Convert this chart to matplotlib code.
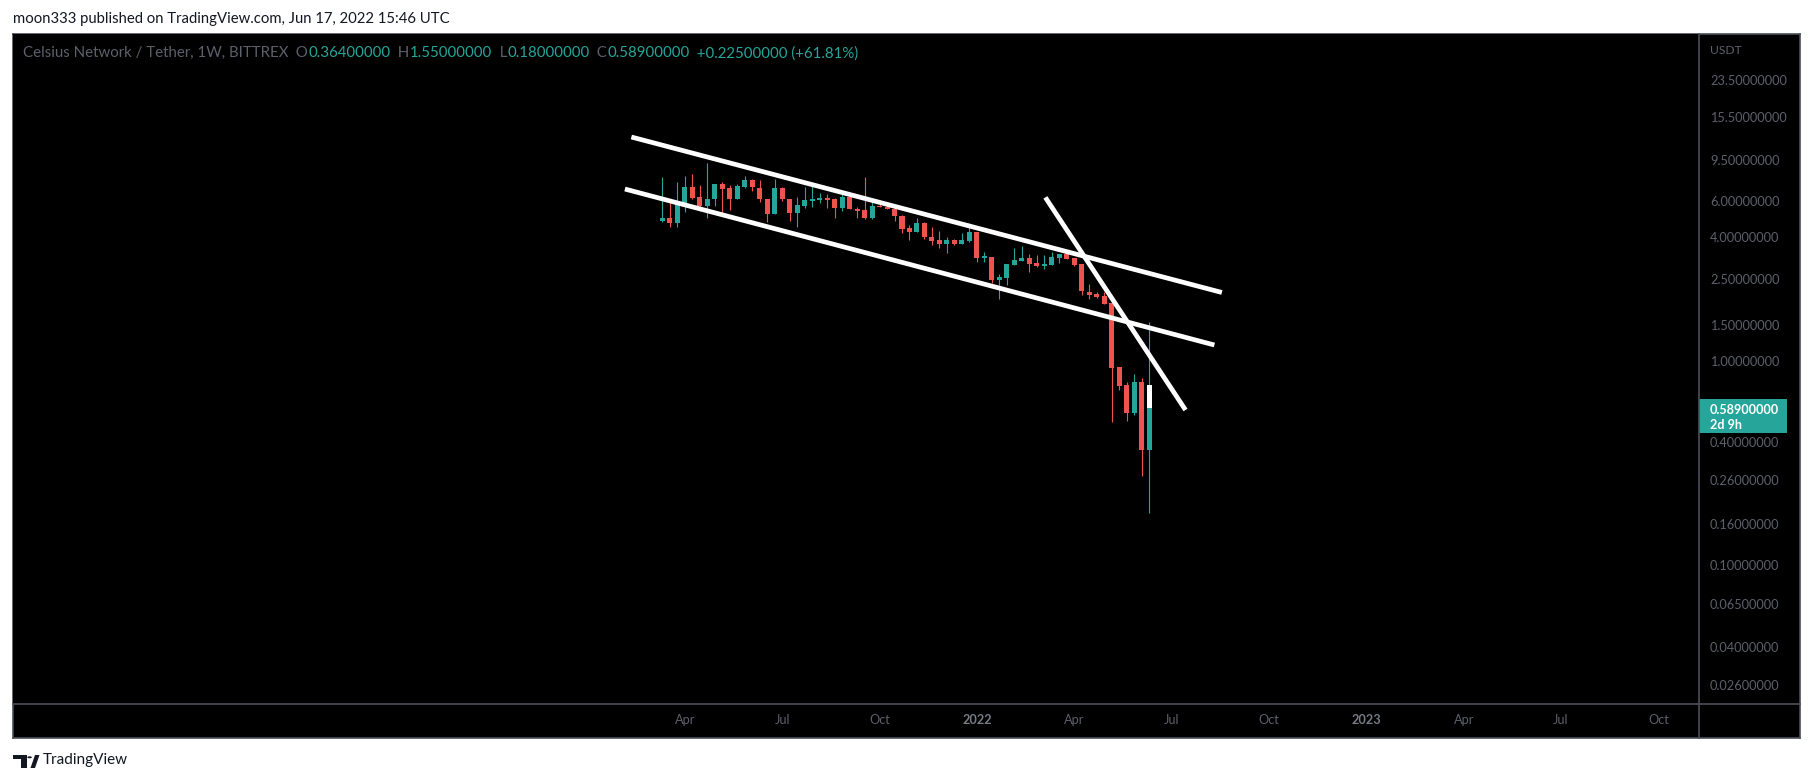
import datetime as dt
import matplotlib
matplotlib.use('Agg')
import matplotlib.pyplot as plt
import matplotlib.dates as mdates
from matplotlib.lines import Line2D
from matplotlib.patches import Rectangle, Polygon, Circle
from matplotlib.ticker import NullLocator

plt.rcParams['font.family'] = ['Lato', 'DejaVu Sans']

title = 'moon333 published on TradingView.com, Jun 17, 2022 15:46 UTC'
symbol = 'Celsius Network / Tether, 1W, BITTREX'
currency = 'USDT'
countdown = '2d 9h'

# weekly candles, first bar is the week of 2021-03-15
first_week = dt.datetime(2021, 3, 15)
opens = [4.82, 4.95, 4.71, 5.91, 7.07, 6.28, 5.70, 6.14, 7.29, 6.98,
         6.14, 7.07, 7.63, 6.98, 6.16, 5.19, 6.98, 6.16, 5.25, 5.72,
         6.04, 6.11, 6.23, 6.16, 5.59, 6.30, 5.53, 5.44, 5.00, 5.72,
         5.65, 5.53, 5.09, 4.45, 4.27, 4.71, 4.01, 3.89, 3.73, 3.89,
         3.73, 3.85, 4.27, 3.17, 3.20, 2.48, 2.54, 2.94, 3.08, 3.17,
         3.00, 2.91, 2.94, 3.17, 3.32, 3.17, 2.96, 2.16, 2.11, 2.06,
         1.91, 0.93, 0.76, 0.555, 0.786, 0.364]
highs = [7.86, 6.16, 7.44, 8.01, 8.16, 7.21, 9.20, 7.29, 7.46, 7.21,
         7.29, 8.01, 7.72, 7.63, 6.16, 7.72, 7.02, 6.16, 6.33, 7.07,
         7.29, 6.61, 6.52, 6.23, 6.52, 6.30, 5.65, 7.89, 5.94, 5.95,
         5.95, 5.65, 5.15, 4.60, 4.95, 4.77, 4.51, 4.30, 4.01, 3.93,
         4.22, 4.69, 4.27, 3.39, 3.20, 2.66, 2.96, 3.55, 3.63, 3.32,
         3.28, 3.28, 3.39, 3.32, 3.43, 3.17, 2.96, 2.37, 2.16, 2.16,
         1.91, 0.93, 0.79, 0.858, 0.822, 1.55]
lows = [4.78, 4.48, 4.51, 5.34, 6.14, 5.40, 5.00, 5.72, 5.28, 5.44,
        6.14, 6.96, 6.77, 5.97, 4.77, 5.19, 6.02, 4.82, 4.48, 5.55,
        5.61, 5.87, 5.59, 5.00, 5.40, 5.50, 5.00, 4.94, 4.94, 5.61,
        5.50, 4.82, 4.22, 3.89, 4.27, 3.93, 3.67, 3.53, 3.37, 3.68,
        3.73, 3.80, 3.04, 3.04, 2.39, 2.00, 2.34, 2.94, 3.08, 2.72,
        2.88, 2.80, 2.94, 3.01, 3.13, 2.91, 2.09, 2.00, 2.02, 1.89,
        0.50, 0.72, 0.507, 0.543, 0.273, 0.18]
closes = [4.95, 4.71, 5.97, 7.07, 6.25, 5.70, 6.14, 7.29, 6.90, 6.14,
          7.13, 7.63, 7.02, 6.14, 5.19, 6.98, 6.14, 5.25, 5.76, 6.09,
          6.16, 6.23, 6.11, 5.59, 6.30, 5.50, 5.40, 5.00, 5.70, 5.61,
          5.50, 5.06, 4.40, 4.27, 4.71, 4.00, 3.85, 3.73, 3.89, 3.73,
          3.89, 4.27, 3.18, 3.24, 2.49, 2.56, 2.96, 3.10, 3.17, 2.96,
          2.91, 2.97, 3.20, 3.32, 3.13, 2.94, 2.19, 2.09, 2.04, 1.89,
          0.924, 0.75, 0.555, 0.786, 0.364, 0.589]
highlight_top = 0.76

# drawn trend lines: start date, start price, end date, end price
trend_lines = [
    ('2021-02-14', 12.37, '2022-08-20', 2.152),
    ('2021-02-08', 6.89, '2022-08-13', 1.192),
    ('2022-03-08', 6.27, '2022-07-17', 0.574),
]

price_ticks = [23.5, 15.5, 9.5, 6.0, 4.0, 2.5, 1.5, 1.0, 0.4, 0.26,
               0.16, 0.1, 0.065, 0.04, 0.026]
time_ticks = ['2021-04-05', '2021-07-05', '2021-10-04', '2022-01-03',
              '2022-04-04', '2022-07-04', '2022-10-03', '2023-01-02',
              '2023-04-03', '2023-07-03', '2023-10-02']
time_labels = ['Apr', 'Jul', 'Oct', '2022', 'Apr', 'Jul', 'Oct', '2023',
               'Apr', 'Jul', 'Oct']
x_range = ('2019-07-17', '2023-11-09')
y_range = (0.02102, 39.4)

UP = '#26a69a'
DOWN = '#ef5350'
TXT = '#5d606b'
BORDER = '#4c4f59'
DARK = '#131722'

W, H = 1813, 783


def fx(x):
    return x / W


def fy(y):
    return 1 - y / H


fig = plt.figure(figsize=(W / 100, H / 100), dpi=100, facecolor='white')
renderer = fig.canvas.get_renderer()


def fitted(s, width, weight='normal'):
    t = fig.text(0, 0, s, fontsize=10, weight=weight)
    w = t.get_window_extent(renderer).width
    t.remove()
    return 10 * width / w


frame = fig.add_axes([fx(13), fy(737.5), fx(1800) - fx(13), fy(34) - fy(737.5)])
frame.set_facecolor('black')
frame.set_xticks([])
frame.set_yticks([])
for s in frame.spines.values():
    s.set_color(BORDER)
    s.set_linewidth(1.2)

ax = fig.add_axes([fx(13), fy(704), fx(1699) - fx(13), fy(34) - fy(704)])
ax.set_facecolor('black')
for s in ax.spines.values():
    s.set_visible(False)
ax.set_yscale('log')
ax.set_xlim(mdates.datestr2num(x_range[0]), mdates.datestr2num(x_range[1]))
ax.set_ylim(*y_range)

# candles
dates = [mdates.date2num(first_week + dt.timedelta(weeks=i)) for i in range(len(opens))]
for d, o, h, l, c in zip(dates, opens, highs, lows, closes):
    col = UP if c >= o else DOWN
    ax.vlines(d, l, h, color=col, lw=0.8, zorder=2)
    ax.bar(d, abs(c - o), bottom=min(o, c), width=4.7, color=col, lw=0, zorder=3)
ax.bar(dates[-1], highlight_top - closes[-1], bottom=closes[-1], width=4.7,
       color='white', lw=0, zorder=3)

for d0, p0, d1, p1 in trend_lines:
    ax.plot([mdates.datestr2num(d0), mdates.datestr2num(d1)], [p0, p1],
            color='white', lw=3.4, solid_capstyle='butt', zorder=5)

# axes
tick_size = fitted('23.50000000', 77)
ax.yaxis.tick_right()
ax.set_yticks(price_ticks)
ax.set_yticklabels(['%.8f' % t for t in price_ticks])
ax.yaxis.set_minor_locator(NullLocator())
ax.tick_params(axis='y', length=0, pad=8, labelcolor=TXT, labelsize=tick_size)
ax.set_xticks([mdates.datestr2num(t) for t in time_ticks])
ax.set_xticklabels(time_labels)
ax.xaxis.set_minor_locator(NullLocator())
ax.tick_params(axis='x', length=0, pad=7, labelcolor=TXT, labelsize=tick_size)
for lab in ax.get_xticklabels():
    if lab.get_text().isdigit():
        lab.set_fontweight('bold')
        lab.set_color('#787b86')

fig.add_artist(Line2D([fx(13), fx(1800)], [fy(704), fy(704)], color=BORDER, lw=1.2))
fig.add_artist(Line2D([fx(1699), fx(1699)], [fy(34), fy(737.5)], color=BORDER, lw=1.2))

fig.text(fx(1710), fy(50.7), currency, color=TXT, fontsize=tick_size * 0.95,
         ha='left', va='center')

# last price tag
y_disp = ax.transData.transform((ax.get_xlim()[0], closes[-1]))[1]
y_top = H - y_disp
fig.add_artist(Rectangle((fx(1699), fy(y_top + 25.3)), fx(1787) - fx(1699), 34 / H,
                         transform=fig.transFigure, color=UP, lw=0))
tag_size = fitted('%.8f' % closes[-1], 69, weight='bold')
fig.text(fx(1710), fy(y_top + 2.3), '%.8f' % closes[-1], color='white',
         fontsize=tag_size, weight='bold', ha='left', va='center')
fig.text(fx(1710), fy(y_top + 17.3), countdown, color='white',
         fontsize=tag_size, weight='bold', ha='left', va='center')

# title and legend
fig.text(fx(12.7), fy(18.5), title, color=DARK, fontsize=fitted(title, 438),
         ha='left', va='center')

head_size = fitted(symbol, 264)
o, h, l, c = opens[-1], highs[-1], lows[-1], closes[-1]
pieces = [(symbol, TXT), ('  O', TXT), ('%.8f' % o, UP), ('  H', TXT), ('%.8f' % h, UP),
          ('  L', TXT), ('%.8f' % l, UP), ('  C', TXT), ('%.8f' % c, UP),
          ('  %+.8f (%+.2f%%)' % (c - o, (c - o) / o * 100), UP)]
x = 22.7
for s, col in pieces:
    t = fig.text(fx(x), fy(53.3), s, color=col, fontsize=head_size, ha='left', va='center')
    x += t.get_window_extent(renderer).width

# footer logo
fig.add_artist(Polygon([(fx(13.3), fy(755)), (fx(26.7), fy(755)), (fx(26.7), fy(768)),
                        (fx(20.5), fy(768)), (fx(20.5), fy(759)), (fx(13.3), fy(759))],
                       closed=True, transform=fig.transFigure, color=DARK, lw=0))
fig.add_artist(Circle((fx(29.6), fy(757.3)), 2.3 / W, transform=fig.transFigure,
                      color=DARK, lw=0))
fig.add_artist(Polygon([(fx(30.5), fy(768)), (fx(35.0), fy(755)), (fx(39.5), fy(755)),
                        (fx(35.0), fy(768))],
                       closed=True, transform=fig.transFigure, color=DARK, lw=0))
fig.text(fx(42.7), fy(760), 'TradingView', color=DARK, fontsize=fitted('TradingView', 85),
         ha='left', va='center')

fig.savefig('out.png', dpi=100, facecolor='white')
